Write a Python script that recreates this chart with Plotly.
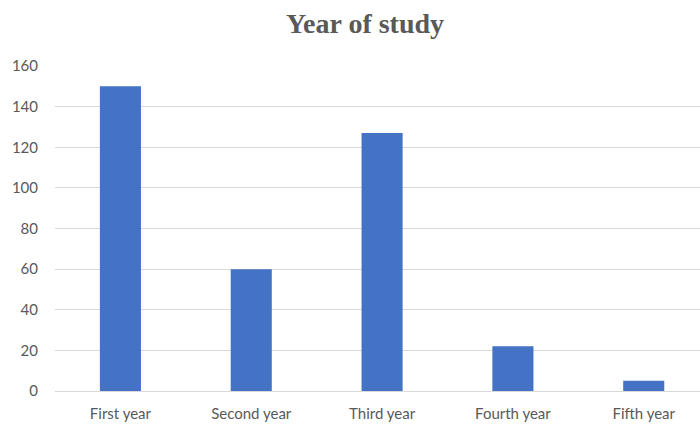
import plotly.graph_objects as go

categories = ["First year", "Second year", "Third year", "Fourth year", "Fifth year"]
values = [150, 60, 127, 22, 5]
y_ticks = [0, 20, 40, 60, 80, 100, 120, 140, 160]

fig = go.Figure(go.Bar(
    x=categories, y=values,
    marker=dict(color="#4472C4", line=dict(width=0)),
))

fig.update_layout(
    width=700, height=425,
    paper_bgcolor="white", plot_bgcolor="white",
    margin=dict(l=55, r=0, t=66, b=34),
    bargap=0.686,
    showlegend=False,
    font=dict(family="Lato, Open Sans, sans-serif", size=15, color="#595959"),
    title=dict(
        text="<b>Year of study</b>",
        font=dict(family="Liberation Serif, Times New Roman, serif", size=28, color="#595959"),
        x=(365 - 55) / 645, xref="paper", xanchor="center",
        y=1 - 23 / 425, yref="container", yanchor="middle",
    ),
    xaxis=dict(
        range=[-0.5, 4.43],
        showgrid=False, showline=False, zeroline=False,
        ticks="", ticklabelstandoff=12,
        tickfont=dict(size=15, color="#595959"),
    ),
    yaxis=dict(
        range=[0, 160], tickvals=y_ticks,
        showgrid=True, gridcolor="#D9D9D9", gridwidth=1,
        zeroline=True, zerolinecolor="#D9D9D9", zerolinewidth=1,
        showline=False, ticks="", ticklabelstandoff=16,
        tickfont=dict(size=15, color="#595959"),
    ),
)

fig.write_html("out.html")
